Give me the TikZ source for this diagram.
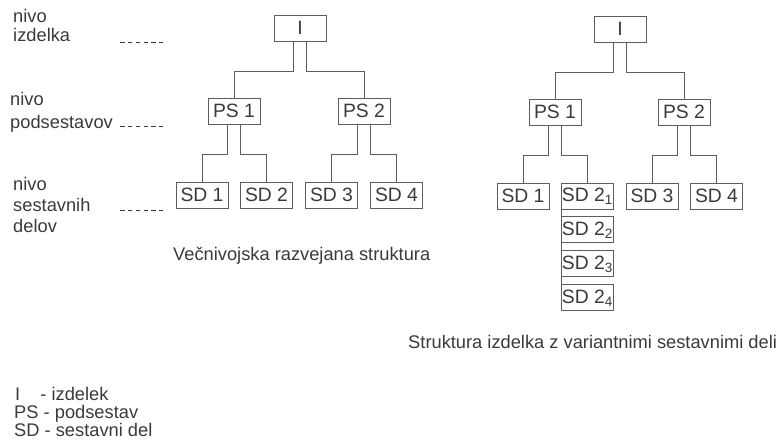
\documentclass[tikz,border=0pt]{standalone}
\usepackage{fontspec}
\setmainfont{Liberation Sans}
\usetikzlibrary{positioning}

\definecolor{inkgray}{HTML}{3A3A3A}
\definecolor{linegray}{HTML}{5C5C5C}

\begin{document}
\begin{tikzpicture}
        [ x=0.03cm, y=-0.03cm,
          every node/.style = {text=inkgray, font=\fontsize{15.6}{18}\selectfont},
          part/.style = {draw=linegray, line width=0.8pt, minimum width=1.56cm,
                         minimum height=0.78cm, inner sep=0pt,
                         font=\fontsize{16.5}{18}\selectfont},
          label/.style = {anchor=base west, inner sep=0pt},
          link/.style = {draw=linegray, line width=0.8pt},
          leader/.style = {draw=inkgray, line width=0.7pt,
                           dash pattern=on 0.135cm off 0.1cm}]
        \useasboundingbox (0,0) rectangle (778,448);

        % levels on the left
        \node[label] (n1a) at (13,22)  {nivo};
        \node[label] (n1b) at (13,42)  {izdelka};
        \node[label] (n2a) at (10,105) {nivo};
        \node[label] (n2b) at (10,128) {podsestavov};
        \node[label] (n3a) at (13,190) {nivo};
        \node[label] (n3b) at (13,211) {sestavnih};
        \node[label] (n3c) at (13,232) {delov};
        \coordinate (d1s) at (120,42);  \coordinate (d1e) at (163,42);
        \coordinate (d2s) at (120,126); \coordinate (d2e) at (163,126);
        \coordinate (d3s) at (120,210); \coordinate (d3e) at (163,210);
        \draw[leader] (d1s) -- (d1e);
        \draw[leader] (d2s) -- (d2e);
        \draw[leader] (d3s) -- (d3e);

        % multi level tree
        \node[part] (lI)   at (300,28)    {I};
        \node[part] (lPS1) at (234,111)   {PS 1};
        \node[part] (lPS2) at (364,111)   {PS 2};
        \node[part] (lSD1) at (202,195)   {SD 1};
        \node[part] (lSD2) at (266.5,195) {SD 2};
        \node[part] (lSD3) at (331.5,195) {SD 3};
        \node[part] (lSD4) at (396.5,195) {SD 4};
        \node[label] (lcap) at (173,260) {Večnivojska razvejana struktura};

        % tree with variant parts
        \node[part] (rI)   at (620,29)    {I};
        \node[part] (rPS1) at (555,112)   {PS 1};
        \node[part] (rPS2) at (684,112)   {PS 2};
        \node[part] (rSD1) at (523,196)   {SD 1};
        \node[part] (rSD21) at (587.5,196) {SD 2\textsubscript{1}};
        \node[part, below=0.21cm of rSD21] (rSD22) {SD 2\textsubscript{2}};
        \node[part, below=0.21cm of rSD22] (rSD23) {SD 2\textsubscript{3}};
        \node[part, below=0.21cm of rSD23] (rSD24) {SD 2\textsubscript{4}};
        \node[part] (rSD3) at (652,196)   {SD 3};
        \node[part] (rSD4) at (716.5,196) {SD 4};
        \draw[link] (rSD21.south west) -- (rSD24.north west);
        \node[label] (rcap) at (408,348) {Struktura izdelka z variantnimi sestavnimi deli};

        \foreach \up/\a/\b in {lI/lPS1/lPS2, lPS1/lSD1/lSD2, lPS2/lSD3/lSD4,
                               rI/rPS1/rPS2, rPS1/rSD1/rSD21, rPS2/rSD3/rSD4} {
          \draw[link] ([xshift=-0.19cm]\up.south) -- ++(0,29.5) -| (\a.north);
          \draw[link] ([xshift=0.19cm]\up.south) -- ++(0,29.5) -| (\b.north);
        }

        % legend
        \node[label] (kI)  at (15,400) {I\hspace{1.1em}- izdelek};
        \node[label] (kPS) at (14,418) {PS - podsestav};
        \node[label] (kSD) at (14,436) {SD - sestavni del};
\end{tikzpicture}
\end{document}
